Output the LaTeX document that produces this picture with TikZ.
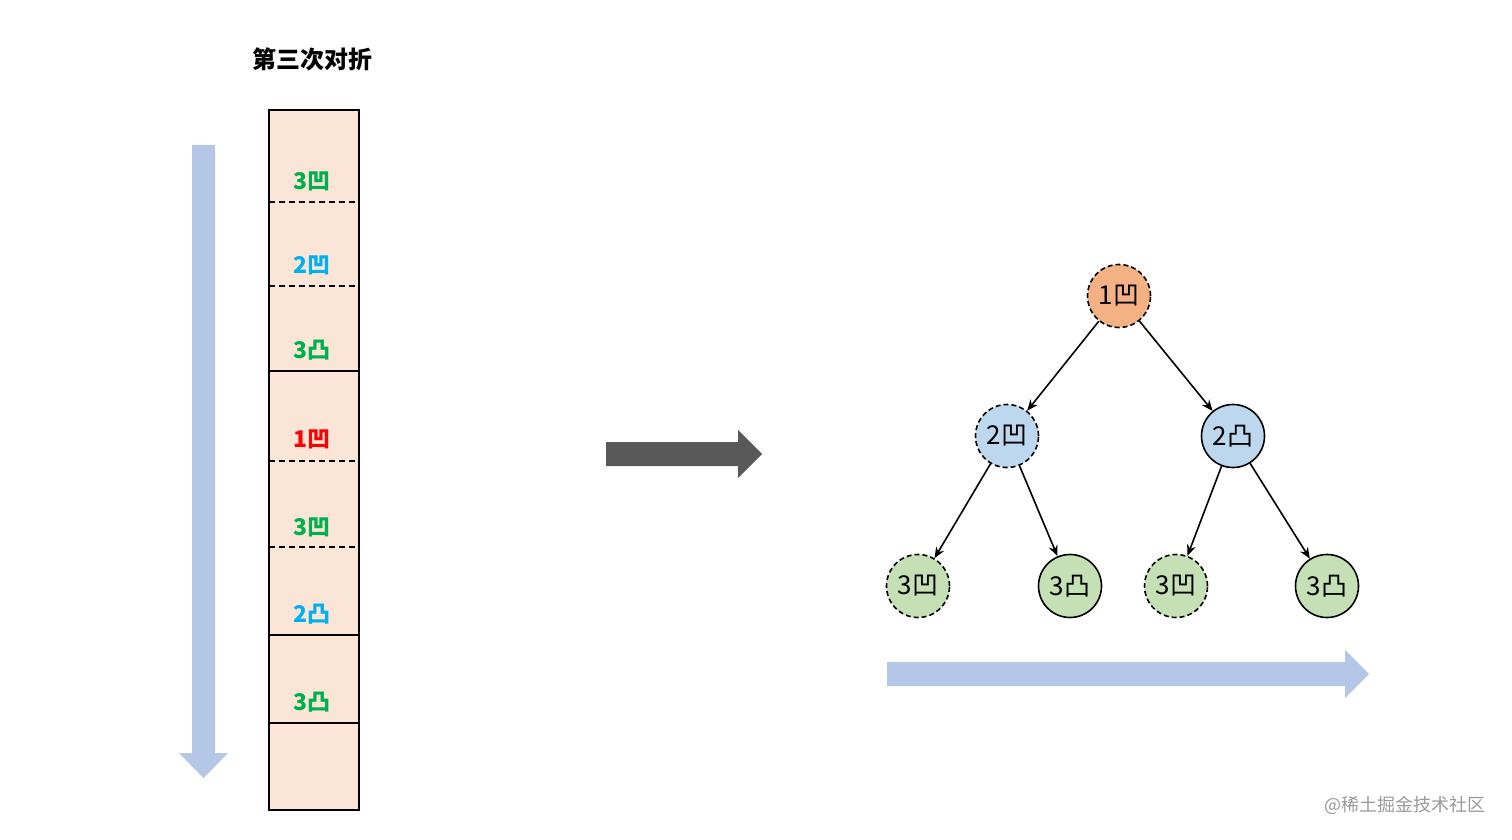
\documentclass[tikz,border=0pt]{standalone}
\usepackage{fontspec}
\setmainfont{Liberation Sans}
\newfontfamily\cjk{Noto Sans CJK SC}
\usetikzlibrary{arrows, arrows.meta}
\definecolor{peach}{HTML}{FBE5D6}
\definecolor{flowblue}{HTML}{B4C7E7}
\definecolor{darkgray}{HTML}{595959}
\definecolor{lvone}{HTML}{FF0000}
\definecolor{lvtwo}{HTML}{00B0F0}
\definecolor{lvthree}{HTML}{00B050}
\definecolor{orangenode}{HTML}{F4B183}
\definecolor{bluenode}{HTML}{BDD7EE}
\definecolor{greennode}{HTML}{C5E0B4}
\tikzstyle{foldlabel} = [font=\cjk\fontsize{23}{25}\selectfont\bfseries, inner sep=0pt]
\tikzstyle{treenode} = [circle, draw=black, line width=1.6pt, minimum size=63pt, inner sep=0pt, font=\cjk\fontsize{26}{28}\selectfont]
\tikzstyle{concave} = [treenode, dash pattern=on 5pt off 3pt]
\tikzstyle{arrow} = [line width=1.6pt, -{Stealth[length=11pt, width=9pt]}]

\begin{document}
\begin{tikzpicture}[x=1pt,y=-1pt]
    \useasboundingbox (0,0) rectangle (1512,840);
    % title
    \node (title) [font=\cjk\fontsize{24}{26}\selectfont\bfseries, anchor=west] at (249,59) {第三次对折};

    % paper strip
    \fill[peach] (269,110) rectangle (359,810);
    \foreach \y in {202,286,461,547}
        \draw[dash pattern=on 6pt off 4pt, line width=1.5pt] (269,\y) -- (359,\y);
    \foreach \y in {371,635,723}
        \draw[line width=1.6pt] (269,\y) -- (359,\y);
    \draw[line width=1.6pt] (269,110) rectangle (359,810);

    \node (s1) [foldlabel, text=lvthree] at (312,181) {3凹};
    \node (s2) [foldlabel, text=lvtwo] at (312,265) {2凹};
    \node (s3) [foldlabel, text=lvthree] at (312,350) {3凸};
    \node (s4) [foldlabel, text=lvone] at (312,439) {1凹};
    \node (s5) [foldlabel, text=lvthree] at (312,527) {3凹};
    \node (s6) [foldlabel, text=lvtwo] at (312,614) {2凸};
    \node (s7) [foldlabel, text=lvthree] at (312,702) {3凸};

    % reading direction of the strip
    \fill[flowblue] (192,145) -- (215,145) -- (215,753) -- (228,753) -- (203.5,778) -- (179,753) -- (192,753) -- cycle;

    % big arrow
    \fill[darkgray] (606,442) -- (738,442) -- (738,430) -- (762,454) -- (738,478) -- (738,466) -- (606,466) -- cycle;

    % tree
    \node (root) [concave, fill=orangenode] at (1119,296) {1凹};
    \node (l) [concave, fill=bluenode] at (1007,436) {2凹};
    \node (r) [treenode, fill=bluenode] at (1233,436) {2凸};
    \node (ll) [concave, fill=greennode] at (918,586) {3凹};
    \node (lr) [treenode, fill=greennode] at (1070,586) {3凸};
    \node (rl) [concave, fill=greennode] at (1176,586) {3凹};
    \node (rr) [treenode, fill=greennode] at (1327,586) {3凸};

    \draw [arrow] (root) -- (l);
    \draw [arrow] (root) -- (r);
    \draw [arrow] (l) -- (ll);
    \draw [arrow] (l) -- (lr);
    \draw [arrow] (r) -- (rl);
    \draw [arrow] (r) -- (rr);

    % reading order of the leaves
    \fill[flowblue] (887,662) -- (1345,662) -- (1345,650) -- (1369,674) -- (1345,698) -- (1345,686) -- (887,686) -- cycle;

    % watermark
    \node (mark) [font=\cjk\fontsize{18}{20}\selectfont, text=black!40, anchor=east] at (1489,805) {@稀土掘金技术社区};
\end{tikzpicture}
\end{document}
